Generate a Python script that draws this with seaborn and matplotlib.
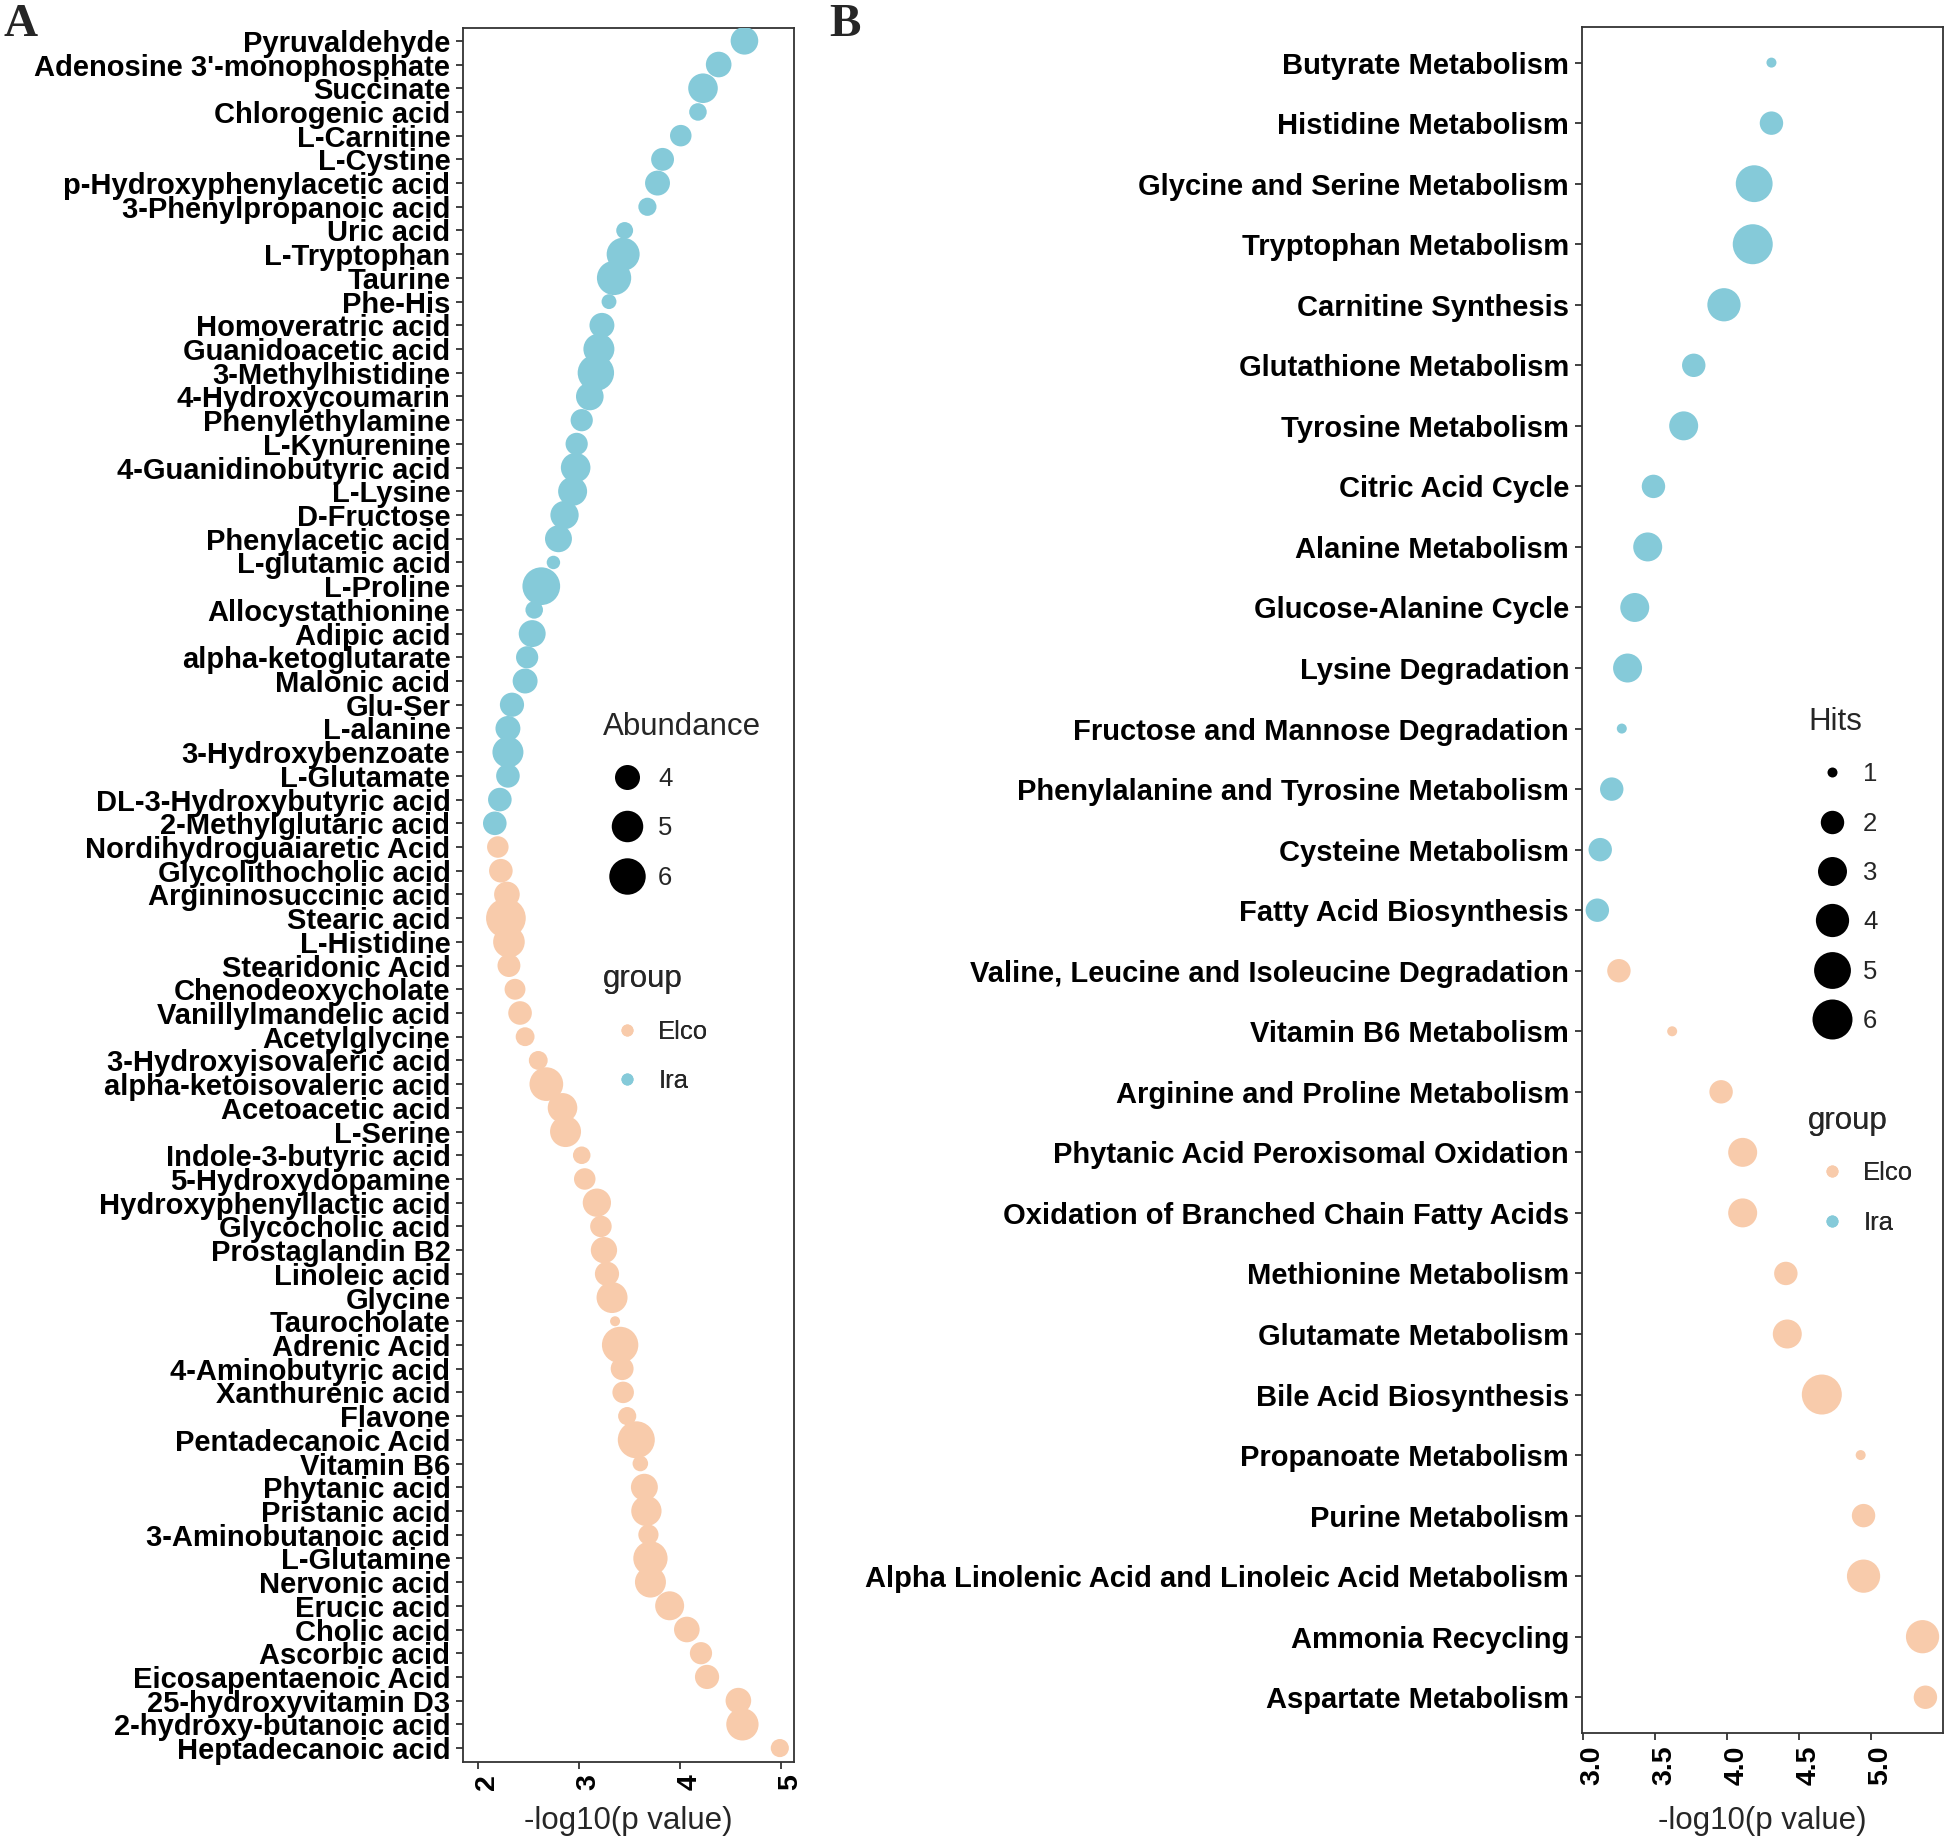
import numpy as np
import pandas as pd
import seaborn as sns
import matplotlib.pyplot as plt
from matplotlib.lines import Line2D
from matplotlib.transforms import ScaledTranslation

# ---- Panel A: differential metabolites ----
metabolites = [
    'Pyruvaldehyde', "Adenosine 3'-monophosphate", 'Succinate', 'Chlorogenic acid',
    'L-Carnitine', 'L-Cystine', 'p-Hydroxyphenylacetic acid', '3-Phenylpropanoic acid',
    'Uric acid', 'L-Tryptophan', 'Taurine', 'Phe-His', 'Homoveratric acid',
    'Guanidoacetic acid', '3-Methylhistidine', '4-Hydroxycoumarin', 'Phenylethylamine',
    'L-Kynurenine', '4-Guanidinobutyric acid', 'L-Lysine', 'D-Fructose',
    'Phenylacetic acid', 'L-glutamic acid', 'L-Proline', 'Allocystathionine',
    'Adipic acid', 'alpha-ketoglutarate', 'Malonic acid', 'Glu-Ser', 'L-alanine',
    '3-Hydroxybenzoate', 'L-Glutamate', 'DL-3-Hydroxybutyric acid', '2-Methylglutaric acid',
    'Nordihydroguaiaretic Acid', 'Glycolithocholic acid', 'Argininosuccinic acid',
    'Stearic acid', 'L-Histidine', 'Stearidonic Acid', 'Chenodeoxycholate',
    'Vanillylmandelic acid', 'Acetylglycine', '3-Hydroxyisovaleric acid',
    'alpha-ketoisovaleric acid', 'Acetoacetic acid', 'L-Serine', 'Indole-3-butyric acid',
    '5-Hydroxydopamine', 'Hydroxyphenyllactic acid', 'Glycocholic acid', 'Prostaglandin B2',
    'Linoleic acid', 'Glycine', 'Taurocholate', 'Adrenic Acid', '4-Aminobutyric acid',
    'Xanthurenic acid', 'Flavone', 'Pentadecanoic Acid', 'Vitamin B6', 'Phytanic acid',
    'Pristanic acid', '3-Aminobutanoic acid', 'L-Glutamine', 'Nervonic acid', 'Erucic acid',
    'Cholic acid', 'Ascorbic acid', 'Eicosapentaenoic Acid', '25-hydroxyvitamin D3',
    '2-hydroxy-butanoic acid', 'Heptadecanoic acid',
]
metab_logp = [
    4.64, 4.385, 4.23, 4.18, 4.01, 3.83, 3.78, 3.68, 3.455, 3.44, 3.35, 3.30, 3.23,
    3.20, 3.17, 3.11, 3.03, 2.98, 2.97, 2.94, 2.86, 2.80, 2.75, 2.63, 2.56, 2.54,
    2.49, 2.47, 2.34, 2.30, 2.30, 2.30, 2.22, 2.17,
    2.20, 2.23, 2.29, 2.28, 2.31, 2.31, 2.37, 2.42, 2.47, 2.60, 2.68, 2.84, 2.87,
    3.03, 3.06, 3.18, 3.22, 3.25, 3.28, 3.33, 3.36, 3.41, 3.43, 3.44, 3.48, 3.57,
    3.61, 3.65, 3.67, 3.69, 3.71, 3.71, 3.90, 4.07, 4.21, 4.27, 4.58, 4.62, 4.99,
]
metab_abundance = [
    4.36, 4.08, 4.67, 3.29, 3.61, 3.75, 3.99, 3.33, 3.25, 5.28, 5.54, 3.15, 3.99,
    4.91, 5.99, 4.36, 3.68, 3.68, 4.67, 4.57, 4.46, 4.26, 3.10, 6.29, 3.29, 4.26,
    3.68, 3.99, 3.90, 3.99, 4.91, 3.83, 3.83, 3.83,
    3.61, 3.83, 4.08, 6.77, 5.02, 3.75, 3.55, 3.83, 3.38, 3.38, 5.42, 4.67, 4.91,
    3.29, 3.61, 4.46, 3.61, 4.17, 3.90, 4.91, 3.05, 5.99, 3.75, 3.61, 3.33, 6.13,
    3.18, 4.26, 4.79, 3.49, 5.54, 4.91, 4.57, 4.08, 3.68, 3.90, 4.08, 5.15, 3.33,
]
metab_group = ['Ira'] * 34 + ['Elco'] * 39

# ---- Panel B: enriched pathways ----
pathways = [
    'Butyrate Metabolism', 'Histidine Metabolism', 'Glycine and Serine Metabolism',
    'Tryptophan Metabolism', 'Carnitine Synthesis', 'Glutathione Metabolism',
    'Tyrosine Metabolism', 'Citric Acid Cycle', 'Alanine Metabolism',
    'Glucose-Alanine Cycle', 'Lysine Degradation', 'Fructose and Mannose Degradation',
    'Phenylalanine and Tyrosine Metabolism', 'Cysteine Metabolism',
    'Fatty Acid Biosynthesis', 'Valine, Leucine and Isoleucine Degradation',
    'Vitamin B6 Metabolism', 'Arginine and Proline Metabolism',
    'Phytanic Acid Peroxisomal Oxidation', 'Oxidation of Branched Chain Fatty Acids',
    'Methionine Metabolism', 'Glutamate Metabolism', 'Bile Acid Biosynthesis',
    'Propanoate Metabolism', 'Purine Metabolism',
    'Alpha Linolenic Acid and Linoleic Acid Metabolism', 'Ammonia Recycling',
    'Aspartate Metabolism',
]
path_logp = [
    4.31, 4.31, 4.19, 4.18, 3.98, 3.77, 3.70, 3.49, 3.45, 3.36, 3.31, 3.27, 3.20,
    3.12, 3.10, 3.25, 3.62, 3.96, 4.11, 4.11, 4.41, 4.42, 4.66, 4.93, 4.95, 4.95,
    5.36, 5.38,
]
path_hits = [1, 2, 5, 6, 4, 2, 3, 2, 3, 3, 3, 1, 2, 2, 2, 2, 1, 2, 3, 3, 2, 3, 6, 1,
             2, 4, 4, 2]
path_group = ['Ira'] * 15 + ['Elco'] * 13

palette = {'Elco': '#F8CBAB', 'Ira': '#85CAD9'}
PX2PT = 0.72  # at dpi 100


def abundance_diam(a):
    frac = np.clip((a - 3.05) / 3.8, 0, 1)
    return 10 + 30 * np.sqrt(frac)


def hits_diam(h):
    return 4 + 6 * (1 + 5 * np.sqrt((h - 1) / 5))


df_a = pd.DataFrame({'name': metabolites, 'logp': metab_logp,
                     'Abundance': metab_abundance, 'group': metab_group})
df_b = pd.DataFrame({'name': pathways, 'logp': path_logp,
                     'Hits': path_hits, 'group': path_group})

sns.set_style('white')
plt.rcParams['font.family'] = ['Liberation Sans', 'DejaVu Sans']

fig = plt.figure(figsize=(19.46, 18.37), dpi=100)
axA = fig.add_axes([0.2379, 0.0408, 0.1701, 0.9437])
axB = fig.add_axes([0.8127, 0.0568, 0.1856, 0.9284])

sizes_a = {a: (abundance_diam(a) * PX2PT) ** 2 for a in df_a['Abundance'].unique()}
sizes_b = {h: (hits_diam(h) * PX2PT) ** 2 for h in df_b['Hits'].unique()}

sns.scatterplot(data=df_a, x='logp', y='name', hue='group', size='Abundance',
                sizes=sizes_a, palette=palette, linewidth=0, alpha=1,
                legend=False, ax=axA, zorder=3)
sns.scatterplot(data=df_b, x='logp', y='name', hue='group', size='Hits',
                sizes=sizes_b, palette=palette, linewidth=0, alpha=1,
                legend=False, ax=axB, zorder=3)

axA.set_xlim(1.855, 5.13)
axA.set_ylim(len(metabolites) - 1 + 0.59, -0.52)
axA.set_xticks([2, 3, 4, 5])
axA.set_xticklabels(['2', '3', '4', '5'])

axB.set_xlim(2.99, 5.50)
axB.set_ylim(len(pathways) - 1 + 0.585, -0.585)
axB.set_xticks([3.0, 3.5, 4.0, 4.5, 5.0])
axB.set_xticklabels(['3.0', '3.5', '4.0', '4.5', '5.0'])

for ax, lp in [(axA, 11), (axB, 15)]:
    for sp in ax.spines.values():
        sp.set_visible(True)
        sp.set_color('#333333')
        sp.set_linewidth(1.3)
    ax.tick_params(axis='both', which='major', length=5, width=1.3,
                   color='#333333', direction='out', bottom=True, left=True, pad=4)
    ax.tick_params(axis='y', labelsize=21)
    ax.tick_params(axis='x', labelsize=20.5, rotation=90)
    for lbl in ax.get_yticklabels():
        lbl.set_fontweight('bold')
        lbl.set_color('black')
    for lbl in ax.get_xticklabels():
        lbl.set_fontweight('bold')
        lbl.set_color('black')
        lbl.set_transform(lbl.get_transform() +
                          ScaledTranslation(7 / 72, 0, fig.dpi_scale_trans))
    ax.set_ylabel('')
    ax.set_xlabel('-log10(p value)', fontsize=22.5, labelpad=lp)
    ax.grid(False)


def dot(diam_px, color='black'):
    return Line2D([], [], marker='o', linestyle='', color=color,
                  markersize=diam_px * PX2PT, markeredgewidth=0)


def add_legend(ax, handles, labels, title, anchor, spacing):
    leg = ax.legend(handles, labels, title=title, loc='upper left',
                    bbox_to_anchor=anchor, frameon=False, fontsize=18.5,
                    title_fontsize=22.5, labelspacing=spacing,
                    handletextpad=0.3, handlelength=1.85, borderpad=0,
                    borderaxespad=0, alignment='left')
    ax.add_artist(leg)
    return leg


# size legends
add_legend(axA, [dot(abundance_diam(v)) for v in [4, 5, 6]], ['4', '5', '6'],
           'Abundance', (0.423, 0.606), 0.99)
add_legend(axB, [dot(hits_diam(v)) for v in [1, 2, 3, 4, 5, 6]],
           ['1', '2', '3', '4', '5', '6'], 'Hits', (0.627, 0.6016), 0.99)
# colour legends
add_legend(axA, [dot(12, palette['Elco']), dot(12, palette['Ira'])], ['Elco', 'Ira'],
           'group', (0.423, 0.4602), 0.99)
add_legend(axB, [dot(12, palette['Elco']), dot(12, palette['Ira'])], ['Elco', 'Ira'],
           'group', (0.627, 0.3676), 0.99)

fig.text(0.002, 0.998, 'A', fontfamily=['Liberation Serif', 'DejaVu Serif'],
         fontweight='bold', fontsize=34, va='top', ha='left')
fig.text(0.426, 0.998, 'B', fontfamily=['Liberation Serif', 'DejaVu Serif'],
         fontweight='bold', fontsize=34, va='top', ha='left')

fig.savefig('out.png', dpi=100, facecolor='white')
